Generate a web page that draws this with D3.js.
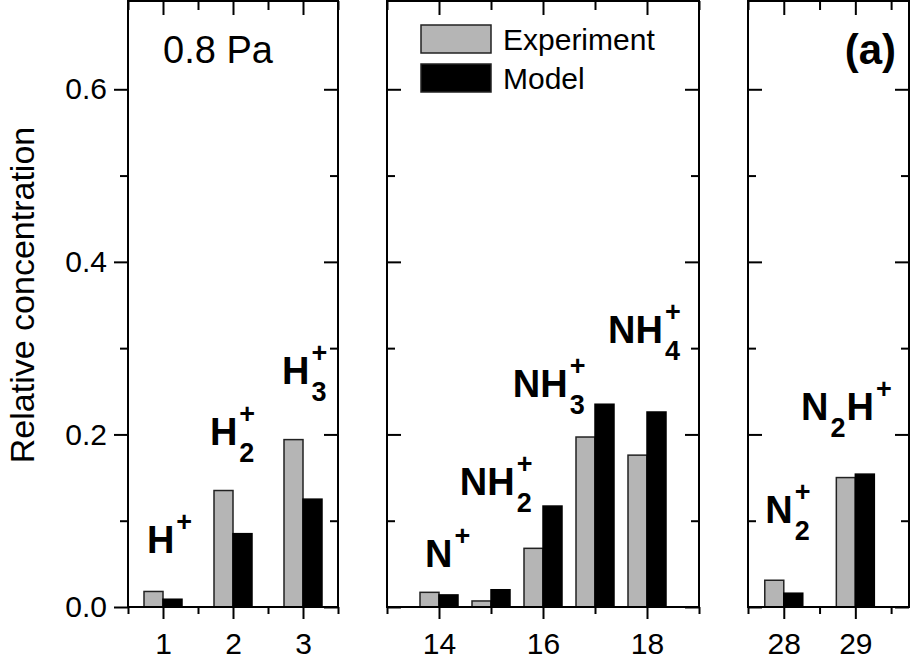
<!DOCTYPE html>
<html>
<head>
<meta charset="utf-8">
<script src="https://cdn.jsdelivr.net/npm/d3@7"></script>
<style>
  body { margin: 0; background: #fff; }
  svg { display: block; }
  text { font-family: "Liberation Sans", Arial, sans-serif; fill: #000; }
</style>
</head>
<body>
<svg width="910" height="663"></svg>
<script>
// mass numbers and relative concentrations, one set per panel
let massLeft = [1, 2, 3]
let expLeft = [0.018, 0.135, 0.194]
let modLeft = [0.009, 0.085, 0.125]

let massMid = [14, 15, 16, 17, 18]
let expMid = [0.017, 0.007, 0.068, 0.197, 0.176]
let modMid = [0.014, 0.020, 0.117, 0.235, 0.226]

let massRight = [28, 29]
let expRight = [0.031, 0.150]
let modRight = [0.016, 0.154]

let yTicks = [0, 0.2, 0.4, 0.6]
let yMinor = [0.1, 0.3, 0.5]

// ion labels ("_" = subscript, "^" = superscript), anchored in data units
let ionText = ["H^+", "H_2^+", "H_3^+", "N^+", "NH_2^+", "NH_3^+", "NH_4^+", "N_2^+", "N_2H^+"]
let ionPanel = [0, 0, 0, 1, 1, 1, 1, 2, 2]
let ionX = [0.77, 1.67, 2.70, 13.73, 14.40, 15.42, 17.25, 27.74, 28.24]
let ionY = [0.063, 0.188, 0.258, 0.046, 0.130, 0.243, 0.306, 0.097, 0.217]

let seriesNames = ["Experiment", "Model"]
let seriesColors = ["#b5b5b5", "#000"]

var svg = d3.select("svg")

var y = d3.scaleLinear().domain([0, 0.7]).range([607, 3])
var yTop = 1, yBottom = 607
var barW = 19

var panels = [
  { mass: massLeft, exp: expLeft, mod: modLeft, domain: [0.5, 3.5], range: [128, 338],
    major: [1, 2, 3], minor: [0.5, 1.5, 2.5, 3.5], first: true },
  { mass: massMid, exp: expMid, mod: modMid, domain: [13, 19], range: [387, 699],
    major: [14, 16, 18], minor: [13, 15, 17, 19] },
  { mass: massRight, exp: expRight, mod: modRight, domain: [27.5, 29.75], range: [748, 909],
    major: [28, 29], minor: [27.5, 28.5, 29.5] }
]

panels.forEach(p => {
  p.x = d3.scaleLinear().domain(p.domain).range(p.range)
  let g = svg.append("g")

  // bars
  let rows = p.mass.map((m, i) => ({ m: m, e: p.exp[i], o: p.mod[i] }))
  g.selectAll(".exp").data(rows).enter().append("rect")
    .attr("x", d => p.x(d.m) - barW)
    .attr("y", d => y(d.e))
    .attr("width", barW)
    .attr("height", d => y(0) - y(d.e))
    .attr("fill", seriesColors[0]).attr("stroke", "#222").attr("stroke-width", 1.5)
  g.selectAll(".mod").data(rows).enter().append("rect")
    .attr("x", d => p.x(d.m))
    .attr("y", d => y(d.o))
    .attr("width", barW)
    .attr("height", d => y(0) - y(d.o))
    .attr("fill", seriesColors[1]).attr("stroke", "#000").attr("stroke-width", 1.5)

  // bottom axis (outward ticks)
  g.append("g").attr("transform", `translate(0,${yBottom})`)
    .call(d3.axisBottom(p.x).tickValues(p.major).tickSize(12).tickPadding(14).tickFormat(d3.format("d")))
  g.append("g").attr("transform", `translate(0,${yBottom})`)
    .call(d3.axisBottom(p.x).tickValues(p.minor).tickSize(7).tickFormat(""))
  // top axis (inward ticks)
  g.append("g").attr("transform", `translate(0,${yTop})`)
    .call(d3.axisTop(p.x).tickValues(p.major).tickSize(-14).tickFormat(""))
  g.append("g").attr("transform", `translate(0,${yTop})`)
    .call(d3.axisTop(p.x).tickValues(p.minor).tickSize(-9).tickFormat(""))

  // left axis
  let ls = p.first ? 1 : -1
  let la = d3.axisLeft(y).tickValues(yTicks).tickSize(14 * ls).tickFormat("")
  if (p.first) la.tickFormat(d3.format(".1f")).tickPadding(7)
  g.append("g").attr("transform", `translate(${p.range[0]},0)`).call(la)
  g.append("g").attr("transform", `translate(${p.range[0]},0)`)
    .call(d3.axisLeft(y).tickValues(yMinor).tickSize(8 * ls).tickFormat(""))
  // right axis (inward)
  g.append("g").attr("transform", `translate(${p.range[1]},0)`)
    .call(d3.axisRight(y).tickValues(yTicks).tickSize(-14).tickFormat(""))
  g.append("g").attr("transform", `translate(${p.range[1]},0)`)
    .call(d3.axisRight(y).tickValues(yMinor).tickSize(-8).tickFormat(""))

  // frame
  g.append("rect")
    .attr("x", p.range[0]).attr("y", yTop)
    .attr("width", p.range[1] - p.range[0]).attr("height", yBottom - yTop)
    .attr("fill", "none").attr("stroke", "#000").attr("stroke-width", 2)
})

svg.selectAll(".domain").remove()
svg.selectAll(".tick line").attr("stroke", "#000").attr("stroke-width", 2)
svg.selectAll(".tick text").attr("font-size", 30).attr("font-family", "Liberation Sans, Arial, sans-serif").attr("fill", "#000")

// axis title
svg.append("text")
  .attr("transform", "translate(34,295) rotate(-90)")
  .attr("text-anchor", "middle")
  .attr("font-size", 34)
  .text("Relative concentration")

// pressure and panel letter
svg.append("text").attr("x", 163).attr("y", 63).attr("font-size", 38).text("0.8 Pa")
svg.append("text").attr("x", 896).attr("y", 64).attr("text-anchor", "end")
  .attr("font-size", 42).attr("font-weight", "bold").text("(a)")

// legend
seriesNames.forEach((n, i) => {
  svg.append("rect").attr("x", 421).attr("y", 25 + i * 39).attr("width", 70).attr("height", 28)
    .attr("fill", seriesColors[i]).attr("stroke", "#222").attr("stroke-width", 1.5)
  svg.append("text").attr("x", 503).attr("y", 50 + i * 39).attr("font-size", 30).text(n)
})

// ion labels
ionText.forEach((t, i) => {
  let p = panels[ionPanel[i]]
  let cx = p.x(ionX[i]), by = y(ionY[i])
  let subX = null
  for (let k = 0; k < t.length; k++) {
    let c = t[k]
    if (c === "_" || c === "^") {
      let ch = t[k + 1]
      k++
      let sx = (c === "^" && subX !== null) ? subX : cx + 2
      let el = svg.append("text").attr("x", sx).attr("y", by + (c === "_" ? 17 : -22))
        .attr("font-size", 27).attr("font-weight", "bold").text(ch)
      let w = el.node().getComputedTextLength()
      if (c === "_") { subX = sx; cx = sx + w + 1 } else { cx = Math.max(cx, sx + w); subX = null }
    } else {
      let el = svg.append("text").attr("x", cx).attr("y", by)
        .attr("font-size", 38).attr("font-weight", "bold").text(c)
      cx += el.node().getComputedTextLength()
      subX = null
    }
  }
})
</script>
</body>
</html>
